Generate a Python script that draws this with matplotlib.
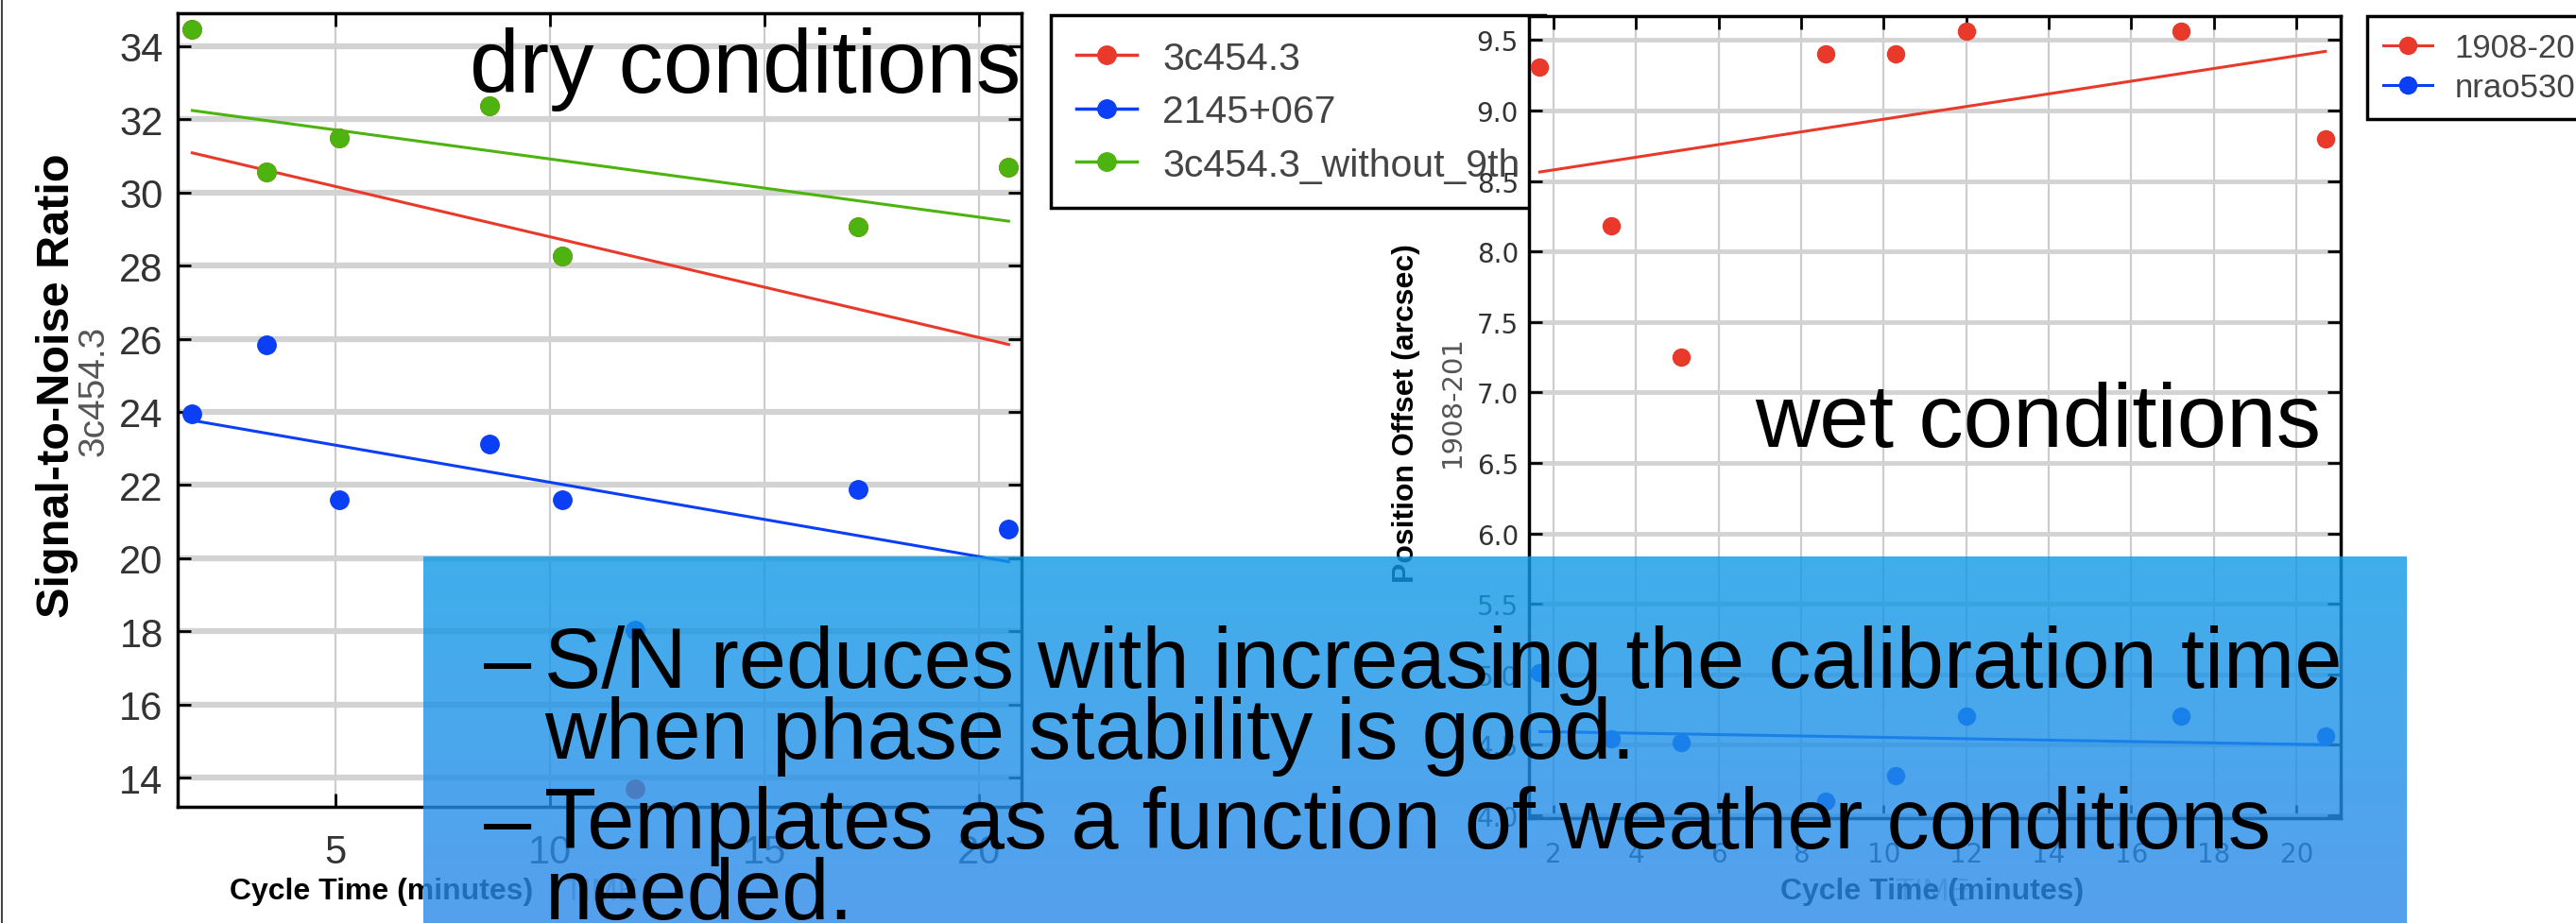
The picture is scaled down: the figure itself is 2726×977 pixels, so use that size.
"""
plot.py - slide: S/N and position offset vs. cycle time (dry / wet conditions)
"""
import numpy as np
import matplotlib
matplotlib.use("Agg")
import matplotlib.pyplot as plt
from matplotlib.lines import Line2D

# ─── Data ───────────────────────────────────────────────────────────────────
cycle_time = [1.67, 3.4, 5.1, 8.6, 10.3, 12.0, 17.2, 20.7]
cycle_time_wo9 = [1.67, 3.4, 5.1, 8.6, 10.3, 17.2, 20.7]

snr_3c454 = [34.46, 30.55, 31.49, 32.37, 28.27, 13.7, 29.07, 30.68]
snr_2145 = [23.95, 25.82, 21.6, 23.13, 21.6, 18.04, 21.87, 20.8]
snr_3c454_wo9 = [34.46, 30.55, 31.49, 32.37, 28.27, 29.07, 30.68]

off_1908 = [9.31, 8.18, 7.25, 9.40, 9.40, 9.56, 9.56, 8.80]
off_nrao530 = [5.01, 4.545, 4.516, 4.10, 4.284, 4.707, 4.707, 4.56]

left_names = ["3c454.3", "2145+067", "3c454.3_without_9th"]
right_names = ["1908-201", "nrao530"]

left_xticks = [5, 10, 15, 20]
left_yticks = [14, 16, 18, 20, 22, 24, 26, 28, 30, 32, 34]
right_xticks = [2, 4, 6, 8, 10, 12, 14, 16, 18, 20]
right_yticks = [4.0, 4.5, 5.0, 5.5, 6.0, 6.5, 7.0, 7.5, 8.0, 8.5, 9.0, 9.5]

bullets = [
    ("–", "S/N reduces with increasing the calibration time"),
    ("", "when phase stability is good."),
    ("–", "Templates as a function of weather conditions"),
    ("", "needed."),
]

# ─── Style ──────────────────────────────────────────────────────────────────
W, H = 2726, 978
RED, BLUE, GREEN = "#e8392b", "#0a3ff5", "#4db30f"
SANS = ["Liberation Sans", "DejaVu Sans"]
BOX_ALPHA = 0.8


def px(x, y):
    """pixel (from top-left) -> figure fraction"""
    return x / W, 1 - y / H


def rect(x0, y0, x1, y1):
    return [x0 / W, 1 - y1 / H, (x1 - x0) / W, (y1 - y0) / H]


def fit_line(ax, x, y, color):
    k, b = np.polyfit(x, y, 1)
    xs = np.array([min(x), max(x)])
    ax.plot(xs, k * xs + b, color=color, lw=2.2, zorder=3)


def style_axes(ax, hlw, tick_font, tick_size, xpad, ypad):
    ax.grid(axis="y", color="#d3d3d3", lw=hlw, zorder=0)
    ax.grid(axis="x", color="#cccccc", lw=1.6, zorder=0)
    ax.set_axisbelow(True)
    for s in ax.spines.values():
        s.set_linewidth(2.5)
        s.set_color("black")
    ax.tick_params(direction="in", length=10, width=2, top=True, right=True,
                   labelcolor="#333333", labelsize=tick_size)
    ax.tick_params(axis="x", pad=xpad)
    ax.tick_params(axis="y", pad=ypad)
    for lab in ax.get_xticklabels() + ax.get_yticklabels():
        lab.set_family(tick_font)


fig = plt.figure(figsize=(W / 100, H / 100), dpi=100)
fig.patch.set_facecolor("white")

# ─── Left panel: S/N (dry) ─────────────────────────────────────────────────
ax1 = fig.add_axes(rect(188, 15, 1081, 855))
ax1.plot(cycle_time, snr_3c454, "o", color=RED, ms=14, zorder=4)
ax1.plot(cycle_time, snr_2145, "o", color=BLUE, ms=14, zorder=4)
ax1.plot(cycle_time_wo9, snr_3c454_wo9, "o", color=GREEN, ms=14, zorder=5)
fit_line(ax1, cycle_time, snr_3c454, RED)
fit_line(ax1, cycle_time, snr_2145, BLUE)
fit_line(ax1, cycle_time_wo9, snr_3c454_wo9, GREEN)
ax1.set_xlim(1.33, 21.0)
ax1.set_ylim(13.2, 34.9)
ax1.set_xticks(left_xticks)
ax1.set_yticks(left_yticks)
style_axes(ax1, 4.5, SANS, 30, 20, 11)

handles = [Line2D([], [], color=c, marker="o", ms=14, lw=2.5)
           for c in (RED, BLUE, GREEN)]
leg1 = ax1.legend(handles, left_names, loc="upper left",
                  bbox_to_anchor=px(1112, 17), bbox_transform=fig.transFigure,
                  borderaxespad=0, fancybox=False, framealpha=1,
                  edgecolor="black", handlelength=1.56, handletextpad=0.67,
                  borderpad=0.65, labelspacing=0.45,
                  prop={"family": SANS, "size": 29.5})
leg1.get_frame().set_linewidth(2.5)
for t in leg1.get_texts():
    t.set_color("#444444")

# ─── Right panel: position offset (wet) ────────────────────────────────────
ax2 = fig.add_axes(rect(1618, 18, 2477, 867))
ax2.plot(cycle_time, off_1908, "o", color=RED, ms=13, zorder=4)
ax2.plot(cycle_time, off_nrao530, "o", color=BLUE, ms=13, zorder=4)
fit_line(ax2, cycle_time, off_1908, RED)
fit_line(ax2, cycle_time, off_nrao530, BLUE)
ax2.set_xlim(1.41, 21.07)
ax2.set_ylim(3.98, 9.67)
ax2.set_xticks(right_xticks)
ax2.set_yticks(right_yticks)
ax2.set_yticklabels([f"{v:.1f}" for v in right_yticks])
style_axes(ax2, 3.5, ["DejaVu Sans"], 20, 17, 8)

handles2 = [Line2D([], [], color=c, marker="o", ms=13, lw=2.2)
            for c in (RED, BLUE)]
leg2 = ax2.legend(handles2, right_names, loc="upper left",
                  bbox_to_anchor=px(2505, 18), bbox_transform=fig.transFigure,
                  borderaxespad=0, fancybox=False, framealpha=1,
                  edgecolor="black", handlelength=1.5, handletextpad=0.66,
                  borderpad=0.5, labelspacing=0.25,
                  prop={"family": SANS, "size": 25})
leg2.get_frame().set_linewidth(2.5)
for t in leg2.get_texts():
    t.set_color("#444444")

# ─── Axis labels (placed like on the slide) ────────────────────────────────
fig.text(*px(61, 408), "Signal-to-Noise Ratio", rotation=90, ha="center",
         va="center", fontsize=35, fontweight="bold", family=SANS)
fig.text(*px(100, 414), "3c454.3", rotation=90, ha="center", va="center",
         fontsize=28, color="#555555", family=SANS)
fig.text(*px(1488, 438), "Position Offset (arcsec)", rotation=90,
         ha="center", va="center", fontsize=23, fontweight="bold", family=SANS)
fig.text(*px(1537, 425), "1908-201", rotation=90, ha="center", va="center",
         fontsize=21, color="#555555", family=["DejaVu Sans"])
for cx in (636, 2045):
    fig.text(*px(cx, 945), "TIME", ha="center", va="center", fontsize=24,
             color="#b0b0b0", family=SANS)
for cx in (404, 2045):
    fig.text(*px(cx, 944), "Cycle Time (minutes)", ha="center", va="center",
             fontsize=23, fontweight="bold", family=SANS)

# slide border on the left
fig.add_artist(Line2D([0.0006, 0.0006], [0, 1], transform=fig.transFigure,
                      color="#444444", lw=1.5))

# ─── Blue text box over the plots ──────────────────────────────────────────
# colours chosen so that over white they show as the slide's blue
box = fig.add_axes(rect(448, 590, 2547, 978), zorder=5)
seen_top = np.array([64, 174, 236]) / 255
seen_bottom = np.array([86, 160, 238]) / 255
top = (seen_top - (1 - BOX_ALPHA)) / BOX_ALPHA
bottom = (seen_bottom - (1 - BOX_ALPHA)) / BOX_ALPHA
grad = np.linspace(0, 1, 256)[:, None, None] * (bottom - top) + top
box.imshow(np.clip(np.repeat(grad, 2, axis=1), 0, 1), aspect="auto",
           alpha=BOX_ALPHA, extent=(0, 1, 0, 1))
box.set_axis_off()

slide_kw = dict(color="black", family=SANS, va="baseline", zorder=6)
fig.text(*px(497, 98), "dry conditions", fontsize=68, **slide_kw)
fig.text(*px(1857, 473), "wet conditions", fontsize=68, **slide_kw)
for (dash, line), base in zip(bullets, (728, 803, 898, 973)):
    if dash:
        fig.text(*px(512, base), dash, fontsize=65, **slide_kw)
    fig.text(*px(576, base), line, fontsize=65, **slide_kw)

plt.savefig("out.png", dpi=100)
plt.close()
